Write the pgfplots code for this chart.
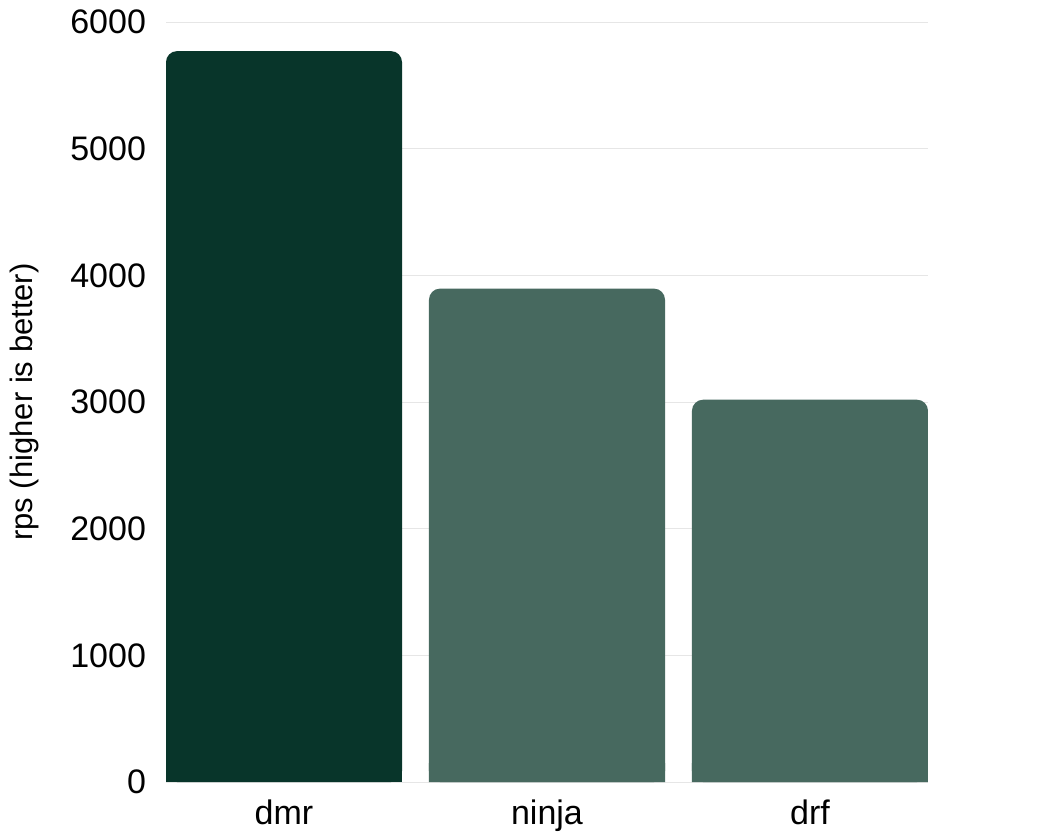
\documentclass[border=0pt]{standalone}
\usepackage{fontspec}
\setmainfont{Liberation Sans}
\usepackage{pgfplots}
\pgfplotsset{compat=1.18}

\definecolor{dmrgreen}{HTML}{08352A}
\definecolor{othgreen}{HTML}{47695F}
\definecolor{gridgray}{HTML}{E6E6E6}

\begin{document}
\begin{tikzpicture}
\useasboundingbox (-83bp,-26.5bp) rectangle (436.5bp,391bp);
\begin{axis}[
    scale only axis,
    width=381bp, height=380bp,
    at={(0,0)}, anchor=south west,
    ymin=0, ymax=6000,
    xmin=-0.4487, xmax=2.4487,
    ytick={0,1000,2000,3000,4000,5000,6000},
    yticklabels={0,1000,2000,3000,4000,5000,6000},
    xtick={0,1,2},
    xticklabels={dmr,ninja,drf},
    /pgf/number format/assume math mode=true,
    ymajorgrids,
    grid style={gridgray, line width=0.5bp},
    axis line style={draw=none},
    major tick length=0pt,
    ticklabel style={font=\fontsize{17bp}{20bp}\selectfont, text=black},
    yticklabel style={xshift=-6.5bp},
    xticklabel style={yshift=-5.5bp},
    ylabel={rps (higher is better)},
    every axis y label/.style={at={(axis description cs:0,0.5)}, xshift=-71bp,
        rotate=90, anchor=center, font=\fontsize{15.5bp}{18bp}\selectfont},
    ybar, bar width=118bp, bar shift=0pt,
]
% square feet at the baseline (drawn first, hidden under the rounded bars)
\addplot[fill=dmrgreen, draw=none, sharp corners] coordinates {(0,150)};
\addplot[fill=othgreen, draw=none, sharp corners] coordinates {(1,150) (2,150)};
% rounded bars
\addplot[fill=dmrgreen, draw=none, rounded corners=5.5bp] coordinates {(0,5770)};
\addplot[fill=othgreen, draw=none, rounded corners=5.5bp] coordinates {(1,3895) (2,3018)};
\end{axis}
\end{tikzpicture}
\end{document}
